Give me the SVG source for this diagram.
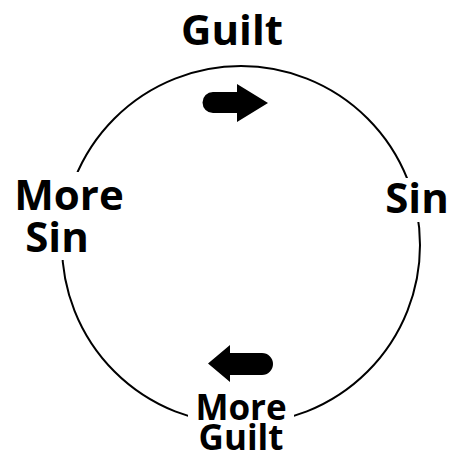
<svg xmlns="http://www.w3.org/2000/svg" width="454" height="457" viewBox="0 0 454 457">
<style>
.lbl{font-family:"Open Sans","Noto Sans","DejaVu Sans",sans-serif;font-weight:bold;fill:#000}
.big{font-size:42px}
.small{font-size:35px}
.arrow{fill:#000}
</style>
<rect width="454" height="457" fill="#fff"/>
<g id="connectors">
<ellipse cx="241" cy="245" rx="179" ry="179" fill="none" stroke="#000" stroke-width="2"/>
<path class="arrow" d="M213,92 H237 V84 L268,103 L237,122 V113 H213 A10.5,10.5 0 0 1 213,92 Z"/>
<path class="arrow" d="M262,353 H230 V345 L208,363.5 L230,382 V375 H262 A11,11 0 0 0 262,353 Z"/>
</g>
<g id="guilt">
<rect x="176" y="5" width="112" height="50" fill="#fff"/>
<text class="lbl big" x="232" y="45" text-anchor="middle">Guilt</text>
</g>
<g id="sin">
<rect x="384" y="178" width="66" height="44" fill="#fff"/>
<text class="lbl big" x="417" y="213" text-anchor="middle">Sin</text>
</g>
<g id="more-guilt">
<rect x="188" y="385" width="106" height="72" fill="#fff"/>
<text class="lbl small" x="241" y="420" text-anchor="middle">More</text>
<text class="lbl small" x="241" y="450" text-anchor="middle">Guilt</text>
</g>
<g id="more-sin">
<rect x="10" y="172" width="118" height="88" fill="#fff"/>
<text class="lbl big" x="69" y="210" text-anchor="middle">More</text>
<text class="lbl big" x="57" y="252" text-anchor="middle">Sin</text>
</g>
</svg>
